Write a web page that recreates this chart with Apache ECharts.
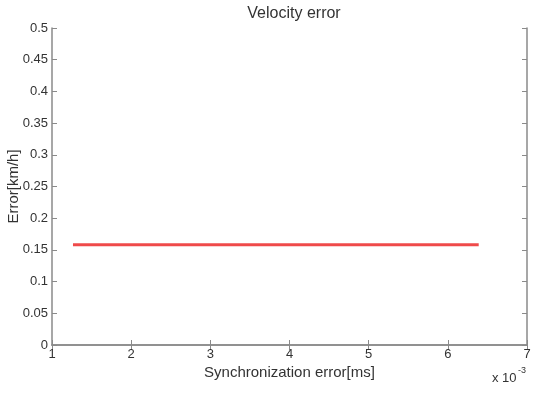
<!DOCTYPE html>
<html><head><meta charset="utf-8">
<script src="https://cdn.jsdelivr.net/npm/echarts@6/dist/echarts.min.js"></script>
<style>html,body{margin:0;padding:0;background:#fff}#c{width:537px;height:394px}</style>
</head><body><div id="c"></div>
<script>
// x values in units of 10^-3 ms
const xValues = [1.265, 6.39];
const yValues = [0.158, 0.158];
const xTicks = [1, 2, 3, 4, 5, 6, 7];
const yTicks = [0, 0.05, 0.1, 0.15, 0.2, 0.25, 0.3, 0.35, 0.4, 0.45, 0.5];

const font = 'Liberation Sans, Arial, sans-serif';
const txt = '#333';
const axc = '#8a8a8a';
const chart = echarts.init(document.getElementById('c'));
const baseAxis = {
  axisLine: {show: true, lineStyle: {color: axc, width: 1.5}},
  axisTick: {show: true, inside: true, length: 5, lineStyle: {color: axc}},
  splitLine: {show: false},
};
chart.setOption({
  animation: false,
  title: {text: 'Velocity error', left: 289, top: 1, textAlign: 'center',
    textStyle: {fontFamily: font, fontSize: 16, fontWeight: 'normal', color: txt}},
  grid: {left: 52, right: 10, top: 28, bottom: 49, containLabel: false, outerBoundsMode: 'none'},
  xAxis: [
    Object.assign({}, baseAxis, {type: 'value', min: 1, max: 7, interval: 1, position: 'bottom',
      name: 'Synchronization error[ms]', nameLocation: 'middle', nameGap: 20, nameMoveOverlap: false,
      nameTextStyle: {fontFamily: font, fontSize: 15, color: txt},
      axisLabel: {fontFamily: font, fontSize: 13, color: txt, margin: 3,
        formatter: v => xTicks.includes(v) ? String(v) : ''}}),
    Object.assign({}, baseAxis, {type: 'value', min: 1, max: 7, interval: 1, position: 'top',
      axisLabel: {show: false}})
  ],
  yAxis: [
    Object.assign({}, baseAxis, {type: 'value', min: 0, max: 0.5, interval: 0.05, position: 'left',
      name: 'Error[km/h]', nameLocation: 'middle', nameGap: 31, nameMoveOverlap: false,
      nameTextStyle: {fontFamily: font, fontSize: 15, color: txt},
      axisLabel: {fontFamily: font, fontSize: 13, color: txt, margin: 4,
        formatter: v => { const t = yTicks.find(q => Math.abs(q - v) < 1e-9); return t === undefined ? '' : String(t); }}}),
    Object.assign({}, baseAxis, {type: 'value', min: 0, max: 0.5, interval: 0.05, position: 'right',
      axisLabel: {show: false}})
  ],
  graphic: [
    {type: 'text', left: 492, top: 372, style: {text: 'x 10', font: '13px ' + font, fill: txt}},
    {type: 'text', left: 518, top: 366, style: {text: '-3', font: '9px ' + font, fill: txt}}
  ],
  series: [{
    type: 'line', xAxisIndex: 0, yAxisIndex: 0, showSymbol: false, symbol: 'none',
    lineStyle: {color: '#ef4a4a', width: 3},
    data: xValues.map((x, i) => [x, yValues[i]])
  }]
});
</script></body></html>
